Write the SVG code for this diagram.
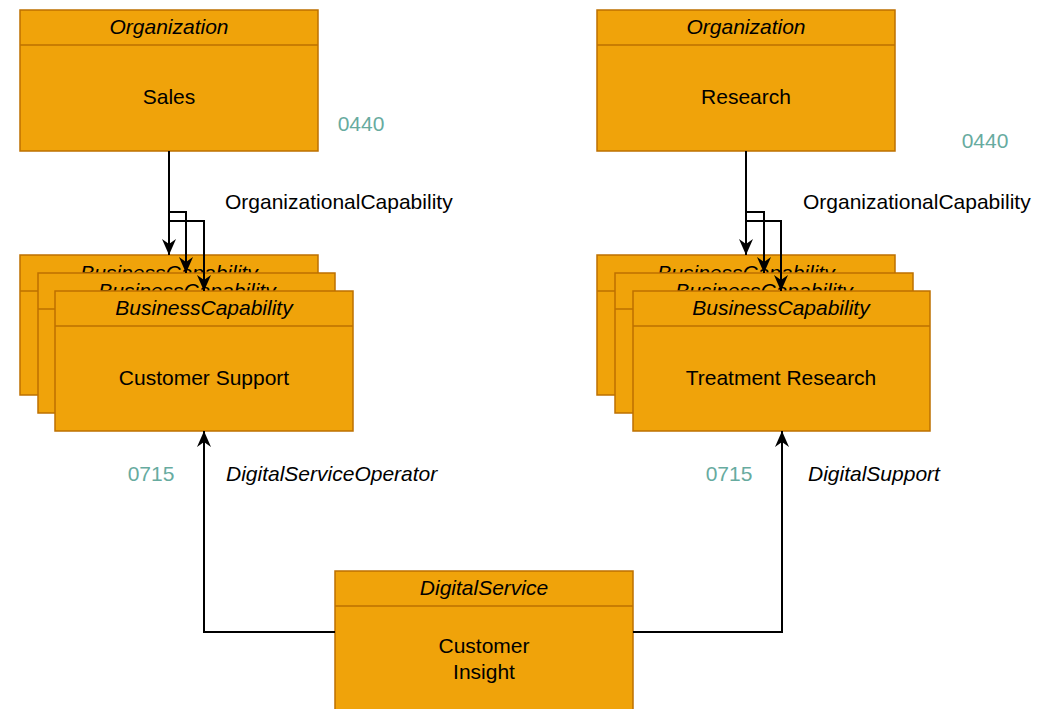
<svg xmlns="http://www.w3.org/2000/svg" width="1053" height="709" viewBox="0 0 1053 709">
<style>
.box{fill:#F0A30A;stroke:#BD7000;stroke-width:1.5}
.hdr{fill:none;stroke:#BD7000;stroke-width:1.5}
.t{font-family:"Liberation Sans",Arial,sans-serif;font-size:21px;fill:#000;text-anchor:middle;dominant-baseline:central}
.it{font-style:italic}
.num{font-family:"Liberation Sans",Arial,sans-serif;font-size:21px;fill:#67AB9F;text-anchor:middle;dominant-baseline:central}
.lbl{font-family:"Liberation Sans",Arial,sans-serif;font-size:21px;fill:#000;dominant-baseline:central}
.c{fill:none;stroke:#000;stroke-width:2}
</style>
<defs>
<marker id="arr2" viewBox="0 0 16 14" refX="16" refY="7" markerWidth="16" markerHeight="14" markerUnits="userSpaceOnUse" orient="auto">
<path d="M0,0 L16,7 L0,14 L5,7 Z" fill="#000"/>
</marker>
</defs>

<g id="org-sales">
<rect class="box" x="20" y="10" width="298" height="141"/>
<line class="hdr" x1="20" y1="45" x2="318" y2="45"/>
<text class="t it" x="169" y="26">Organization</text>
<text class="t" x="169" y="96">Sales</text>
</g>

<g id="org-research">
<rect class="box" x="597" y="10" width="298" height="141"/>
<line class="hdr" x1="597" y1="45" x2="895" y2="45"/>
<text class="t it" x="746" y="26">Organization</text>
<text class="t" x="746" y="96">Research</text>
</g>

<g id="cap-left-1">
<rect class="box" x="20" y="255" width="298" height="140"/>
<line class="hdr" x1="20" y1="291" x2="318" y2="291"/>
<text class="t it" x="169" y="272">BusinessCapability</text>
</g>
<g id="cap-left-2">
<rect class="box" x="38" y="273" width="297" height="140"/>
<line class="hdr" x1="38" y1="309" x2="335" y2="309"/>
<text class="t it" x="187" y="290">BusinessCapability</text>
</g>
<g id="cap-left-3">
<rect class="box" x="55" y="291" width="298" height="140"/>
<line class="hdr" x1="55" y1="326" x2="353" y2="326"/>
<text class="t it" x="204" y="307">BusinessCapability</text>
<text class="t" x="204" y="377">Customer Support</text>
</g>

<g id="cap-right-1">
<rect class="box" x="597" y="255" width="298" height="140"/>
<line class="hdr" x1="597" y1="291" x2="895" y2="291"/>
<text class="t it" x="746" y="272">BusinessCapability</text>
</g>
<g id="cap-right-2">
<rect class="box" x="615" y="273" width="298" height="140"/>
<line class="hdr" x1="615" y1="309" x2="913" y2="309"/>
<text class="t it" x="764" y="290">BusinessCapability</text>
</g>
<g id="cap-right-3">
<rect class="box" x="633" y="291" width="297" height="140"/>
<line class="hdr" x1="633" y1="326" x2="930" y2="326"/>
<text class="t it" x="781" y="307">BusinessCapability</text>
<text class="t" x="781" y="377">Treatment Research</text>
</g>

<g id="digital-service">
<rect class="box" x="335" y="571" width="298" height="145"/>
<line class="hdr" x1="335" y1="606" x2="633" y2="606"/>
<text class="t it" x="484" y="587">DigitalService</text>
<text class="t" x="484" y="645">Customer</text>
<text class="t" x="484" y="671">Insight</text>
</g>

<g id="connectors">
<path class="c" d="M169,151 L169,255" marker-end="url(#arr2)"/>
<path class="c" d="M169,212 L186,212 L186,273" marker-end="url(#arr2)"/>
<path class="c" d="M169,221 L204,221 L204,291" marker-end="url(#arr2)"/>
<path class="c" d="M746,151 L746,255" marker-end="url(#arr2)"/>
<path class="c" d="M746,212 L764,212 L764,273" marker-end="url(#arr2)"/>
<path class="c" d="M746,221 L781,221 L781,291" marker-end="url(#arr2)"/>
<path class="c" d="M335,632 L204,632 L204,431" marker-end="url(#arr2)"/>
<path class="c" d="M633,632 L782,632 L782,431" marker-end="url(#arr2)"/>
</g>

<g id="labels">
<text class="num" x="361" y="123">0440</text>
<text class="lbl" x="225" y="201">OrganizationalCapability</text>
<text class="num" x="985" y="140">0440</text>
<text class="lbl" x="803" y="201">OrganizationalCapability</text>
<text class="num" x="151" y="473">0715</text>
<text class="lbl it" x="226" y="473" style="font-style:italic">DigitalServiceOperator</text>
<text class="num" x="729" y="473">0715</text>
<text class="lbl it" x="808" y="473" style="font-style:italic">DigitalSupport</text>
</g>
</svg>
